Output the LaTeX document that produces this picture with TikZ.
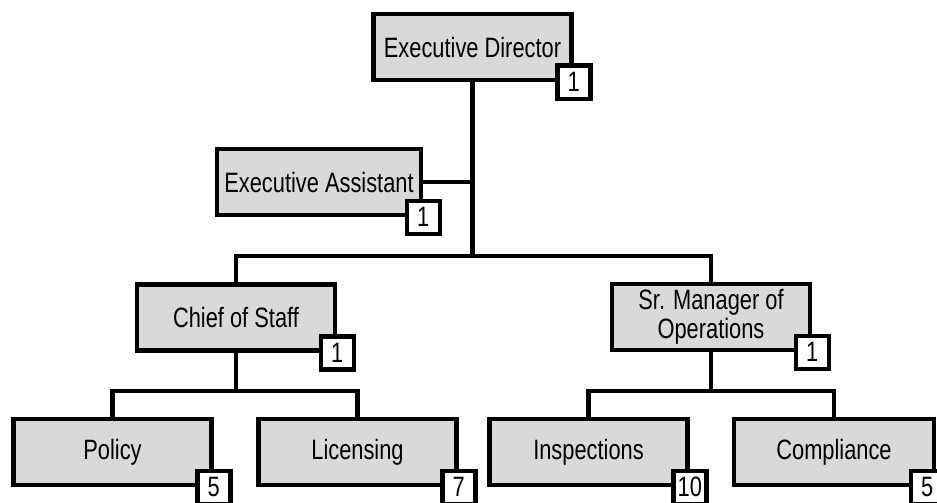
\documentclass[tikz,border=0pt]{standalone}
\usepackage{fontspec}
\setmainfont[FakeStretch=0.78]{Liberation Sans}
\definecolor{boxgray}{RGB}{217,217,217}

\begin{document}
\begin{tikzpicture}[x=1pt,y=-1pt,
    unit/.style={draw,line width=4.5pt,fill=boxgray,minimum width=198pt,minimum height=66pt,inner sep=0pt,align=center,font=\fontsize{28}{29}\selectfont},
    count/.style={draw,line width=4.5pt,fill=white,minimum size=33pt,inner sep=0pt,font=\fontsize{28}{28}\selectfont},
    link/.style={line width=4.5pt}]
    \useasboundingbox (0,0) rectangle (937,503);

    % Director and assistant
    \node[unit] (ed) at (472.5,47) {Executive Director};
    \node[count] (edn) at (ed.south east) {1};
    \node[unit,minimum width=204pt] (ea) at (319,182) {Executive Assistant};
    \node[count] (ean) at (ea.south east) {1};

    % Second level
    \node[unit] (cos) at (236,317.5) {Chief of Staff};
    \node[count] (cosn) at (cos.south east) {1};
    \node[unit] (srm) at (711,317) {Sr. Manager of\\Operations};
    \node[count] (srmn) at (srm.south east) {1};

    % Third level
    \node[unit] (pol) at (112.5,452) {Policy};
    \node[count] (poln) at (pol.south east) {5};
    \node[unit] (lic) at (357.5,452) {Licensing};
    \node[count] (licn) at (lic.south east) {7};
    \node[unit] (ins) at (588.5,452) {Inspections};
    \node[count] (insn) at (ins.south east) {10};
    \node[unit,minimum width=200pt] (com) at (834,452) {Compliance};
    \node[count,xshift=-9pt] (comn) at (com.south east) {5};

    % Connectors
    \coordinate (bus1) at (0,256);
    \coordinate (bus2) at (0,391);
    \draw[link] (ed.south) -- (ed.south |- bus1);
    \draw[link] (ea.east) -- (ea.east -| ed.south);
    \draw[link] (cos.north) |- (ed.south |- bus1) -| (srm.north);
    \draw[link] (cos.south) -- (cos.south |- bus2);
    \draw[link] (pol.north) |- (cos.south |- bus2) -| (lic.north);
    \draw[link] (srm.south) -- (srm.south |- bus2);
    \draw[link] (ins.north) |- (srm.south |- bus2) -| (com.north);
\end{tikzpicture}
\end{document}
